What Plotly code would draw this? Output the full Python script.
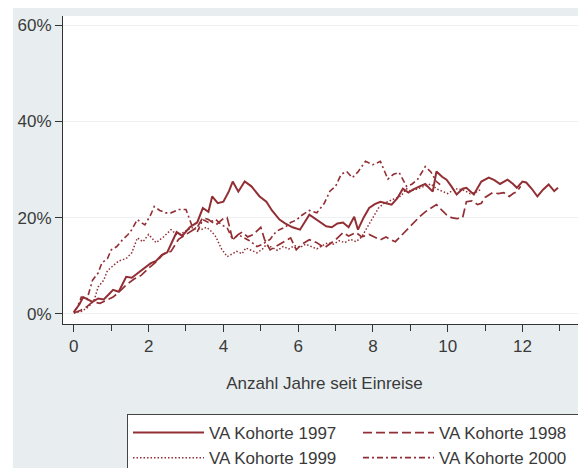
import plotly.graph_objects as go

# ---------------------------------------------------------------------------
# Data (share in %, x = years since entry)
# ---------------------------------------------------------------------------

x_1997 = [0, 0.15, 0.25, 0.4, 0.5, 0.65, 0.8, 0.95, 1.05, 1.2,
          1.4, 1.55, 1.75, 1.9, 2.05, 2.2, 2.35, 2.5, 2.6, 2.75,
          2.9, 3.1, 3.3, 3.45, 3.6, 3.7, 3.85, 4.0, 4.15, 4.25,
          4.4, 4.57, 4.75, 4.97, 5.15, 5.3, 5.5, 5.65, 5.85, 6.05,
          6.3, 6.45, 6.6, 6.75, 6.9, 7.05, 7.2, 7.35, 7.5, 7.6,
          7.75, 7.9, 8.05, 8.2, 8.35, 8.5, 8.65, 8.8, 8.95, 9.07,
          9.25, 9.4, 9.6, 9.7, 9.85, 9.97, 10.1, 10.24, 10.4, 10.5,
          10.7, 10.9, 11.1, 11.25, 11.4, 11.6, 11.75, 11.85, 12.0, 12.1,
          12.25, 12.4, 12.55, 12.7, 12.85, 12.95]
y_1997 = [0.4, 2.0, 3.5, 2.8, 2.5, 3.2, 3.0, 4.2, 5.0, 4.6,
          7.7, 7.5, 8.7, 9.5, 10.5, 11.0, 12.2, 12.8, 14.4, 17.0,
          16.2, 18.0, 19.0, 22.0, 21.2, 24.4, 23.0, 23.3, 25.5, 27.5,
          25.4, 27.5, 26.5, 24.4, 23.3, 21.5, 19.6, 18.8, 18.0, 17.5,
          20.6, 19.8, 19.0, 18.2, 18.0, 18.8, 19.0, 18.0, 20.2, 17.5,
          20.0, 22.0, 22.8, 23.3, 23.0, 22.7, 24.0, 26.0, 25.2, 25.8,
          26.5, 27.0, 25.4, 29.6, 28.5, 27.9, 26.5, 24.8, 26.0, 26.2,
          24.8, 27.5, 28.3, 27.8, 27.0, 27.9, 27.0, 26.2, 27.5, 27.3,
          26.0, 24.4, 25.8, 26.9, 25.5, 26.2]

x_1998 = [0, 0.2, 0.35, 0.5, 0.7, 0.9, 1.05, 1.2, 1.4, 1.6,
          1.8, 2.0, 2.2, 2.4, 2.6, 2.8, 3.0, 3.15, 3.3, 3.45,
          3.6, 3.8, 4.0, 4.1, 4.25, 4.4, 4.5, 4.65, 4.8, 5.0,
          5.1, 5.25, 5.4, 5.5, 5.65, 5.8, 5.95, 6.1, 6.3, 6.5,
          6.7, 6.85, 7.0, 7.2, 7.35, 7.55, 7.7, 7.9, 8.05, 8.2,
          8.35, 8.45, 8.6, 8.75, 8.9, 9.05, 9.25, 9.4, 9.55, 9.7,
          9.85, 9.97, 10.1, 10.25, 10.4, 10.5, 10.65, 10.8, 10.9, 11.0,
          11.2, 11.35, 11.5, 11.65, 11.75, 11.85, 11.95]
y_1998 = [0.2, 0.8, 1.5, 2.5, 2.2, 3.0, 3.5, 4.5, 6.0, 7.2,
          8.0, 9.5, 10.8, 12.5, 13.0, 15.5, 16.5, 17.2, 18.0, 20.0,
          19.6, 18.5, 19.8, 20.0, 15.4, 16.5, 17.0, 16.0, 16.5, 18.0,
          15.5, 13.3, 14.0, 14.4, 15.2, 15.8, 13.3, 14.5, 15.4, 14.8,
          13.7, 14.5, 15.4, 16.9, 16.2, 16.9, 16.0, 16.5, 16.0, 15.4,
          16.0, 15.5, 15.0, 16.2, 17.5, 18.5, 20.2, 21.2, 22.0, 22.7,
          21.5, 20.6, 20.0, 19.8, 20.0, 23.3, 23.5, 22.7, 23.0, 24.2,
          25.2, 25.0, 25.2, 24.4, 25.0, 25.4, 26.5]

x_1999 = [0, 0.2, 0.4, 0.55, 0.65, 0.8, 0.9, 1.05, 1.2, 1.4,
          1.55, 1.7, 1.85, 2.0, 2.2, 2.4, 2.6, 2.75, 2.9, 3.05,
          3.2, 3.4, 3.55, 3.7, 3.8, 3.95, 4.1, 4.25, 4.35, 4.5,
          4.6, 4.75, 4.9, 5.05, 5.15, 5.3, 5.45, 5.6, 5.75, 5.9,
          6.05, 6.2, 6.35, 6.5, 6.65, 6.8, 6.95, 7.1, 7.25, 7.4,
          7.55, 7.7, 7.85, 8.0, 8.15, 8.3, 8.45, 8.6, 8.75, 8.9,
          9.0, 9.2, 9.4, 9.55, 9.7, 9.85, 10.0, 10.2, 10.4, 10.6,
          10.8, 10.9]
y_1999 = [0.2, 0.5, 1.5, 3.0, 5.6, 7.0, 9.0, 10.0, 11.0, 11.5,
          12.7, 15.8, 15.0, 16.5, 14.8, 16.0, 17.5, 16.5, 16.8, 17.5,
          18.0, 17.5, 18.0, 17.0, 16.0, 13.5, 11.9, 12.5, 13.0, 12.5,
          13.7, 13.2, 12.7, 13.5, 14.4, 13.8, 13.2, 14.0, 13.5, 14.2,
          13.8, 14.5, 14.0, 13.5, 14.2, 14.8, 14.5, 15.2, 14.8, 15.5,
          15.0, 16.0, 18.0, 20.0, 22.0, 23.0, 23.5, 24.0, 24.5, 26.0,
          25.5, 26.0, 26.5, 27.0, 26.0, 25.5, 25.0, 26.0, 25.8, 25.0,
          25.4, 26.0]

x_2000 = [0, 0.1, 0.2, 0.35, 0.5, 0.65, 0.75, 0.9, 1.0, 1.15,
          1.3, 1.45, 1.55, 1.7, 1.8, 1.9, 2.05, 2.15, 2.3, 2.45,
          2.6, 2.8, 3.0, 3.15, 3.3, 3.45, 3.6, 3.8, 3.95, 4.1,
          4.25, 4.4, 4.5, 4.7, 4.9, 5.05, 5.25, 5.4, 5.5, 5.65,
          5.8, 5.95, 6.1, 6.3, 6.5, 6.7, 6.85, 7.0, 7.15, 7.3,
          7.45, 7.6, 7.8, 8.0, 8.2, 8.3, 8.4, 8.55, 8.7, 8.9,
          9.05, 9.2, 9.4, 9.55, 9.7, 9.85]
y_2000 = [0.3, 1.5, 3.5, 3.0, 7.0, 8.5, 10.6, 11.5, 13.3, 14.0,
          15.4, 16.5, 17.5, 19.6, 19.0, 18.5, 20.5, 22.3, 21.5, 21.0,
          21.0, 21.7, 21.7, 18.5, 17.0, 19.6, 19.0, 19.6, 18.5, 17.9,
          15.4, 16.5, 16.0, 15.2, 14.0, 14.5, 15.5, 17.0, 17.5, 18.0,
          19.0, 19.5, 20.5, 21.5, 21.0, 23.0, 25.5, 26.5, 29.0, 29.6,
          28.3, 29.5, 31.7, 31.0, 31.7, 30.0, 28.0, 29.0, 29.4, 26.5,
          27.0, 28.0, 30.6, 29.5, 27.5, 26.5]

series_names = ["VA Kohorte 1997", "VA Kohorte 1998", "VA Kohorte 1999", "VA Kohorte 2000"]
y_ticks = [0, 20, 40, 60]
y_tick_labels = ["0%", "20%", "40%", "60%"]
x_ticks = [0, 2, 4, 6, 8, 10, 12]

# ---------------------------------------------------------------------------
# Figure (page body adds an 8px offset, so the figure is 578x460)
# ---------------------------------------------------------------------------

W, H = 578, 460
L, T, B = 55, 8, 144
PLOT_W = W - L
PLOT_H = H - T - B

LINE_COLOR = "#922f35"
BG = "#e8eef0"
FONT = "Liberation Sans, Arial, sans-serif"
TEXT = "#3a3a3a"

styles = [
    {"dash": "solid", "width": 2},
    {"dash": "9px,4px", "width": 1.7},
    {"dash": "1.5px,2px", "width": 1.5},
    {"dash": "6px,3px,2px,3px", "width": 1.6},
]


def px_x(v):
    return (v - L) / PLOT_W


def px_y(v):
    return (H - B - v) / PLOT_H


fig = go.Figure()
for xs, ys, name, st in zip(
    [x_1997, x_1998, x_1999, x_2000],
    [y_1997, y_1998, y_1999, y_2000],
    series_names, styles, strict=True,
):
    fig.add_trace(go.Scatter(
        x=xs, y=ys, mode="lines", name=name,
        line={"color": LINE_COLOR, "width": st["width"], "dash": st["dash"]},
    ))

# graph-region background around the white plot area
bg_rects = [
    (5, 0, L, H),          # left strip
    (L, 0, W, T),          # top strip
    (L, H - B, W, H),      # bottom strip
]
for x0, y0, x1, y1 in bg_rects:
    fig.add_shape(type="rect", xref="paper", yref="paper",
                  x0=px_x(x0), x1=px_x(x1), y0=px_y(y1), y1=px_y(y0),
                  fillcolor=BG, line={"width": 0}, layer="below")

fig.update_layout(
    width=W,
    height=H,
    paper_bgcolor="white",
    plot_bgcolor="white",
    margin={"l": L, "r": 0, "t": T, "b": B, "autoexpand": False},
    font={"family": FONT, "size": 17, "color": TEXT},
    showlegend=True,
    legend={
        "orientation": "h",
        "x": px_x(119),
        "xanchor": "left",
        "y": px_y(406),
        "yanchor": "top",
        "bgcolor": "white",
        "bordercolor": "#444444",
        "borderwidth": 1,
        "font": {"size": 17, "color": TEXT},
        "itemwidth": 71,
        "entrywidth": 144,
        "tracegroupgap": 0,
    },
)

fig.update_xaxes(
    range=[-0.29, 13.7],
    tickvals=x_ticks,
    ticks="outside",
    ticklen=7,
    tickcolor="#333333",
    showline=True,
    linecolor="#333333",
    linewidth=1,
    showgrid=False,
    zeroline=False,
    minor={"dtick": 1, "tick0": 1, "ticks": "outside", "ticklen": 6, "tickcolor": "#333333"},
    title={"text": "Anzahl Jahre seit Einreise", "standoff": 21, "font": {"size": 17, "color": TEXT}},
    tickfont={"size": 17, "color": TEXT},
)

fig.update_yaxes(
    range=[-2.1, 61.9],
    tickvals=y_ticks,
    ticktext=y_tick_labels,
    ticks="outside",
    ticklen=7,
    tickcolor="#333333",
    showline=True,
    linecolor="#333333",
    linewidth=1,
    showgrid=True,
    gridcolor="#edf1f3",
    gridwidth=1,
    zeroline=False,
    tickfont={"size": 17, "color": TEXT},
)

fig.write_html("out.html")
